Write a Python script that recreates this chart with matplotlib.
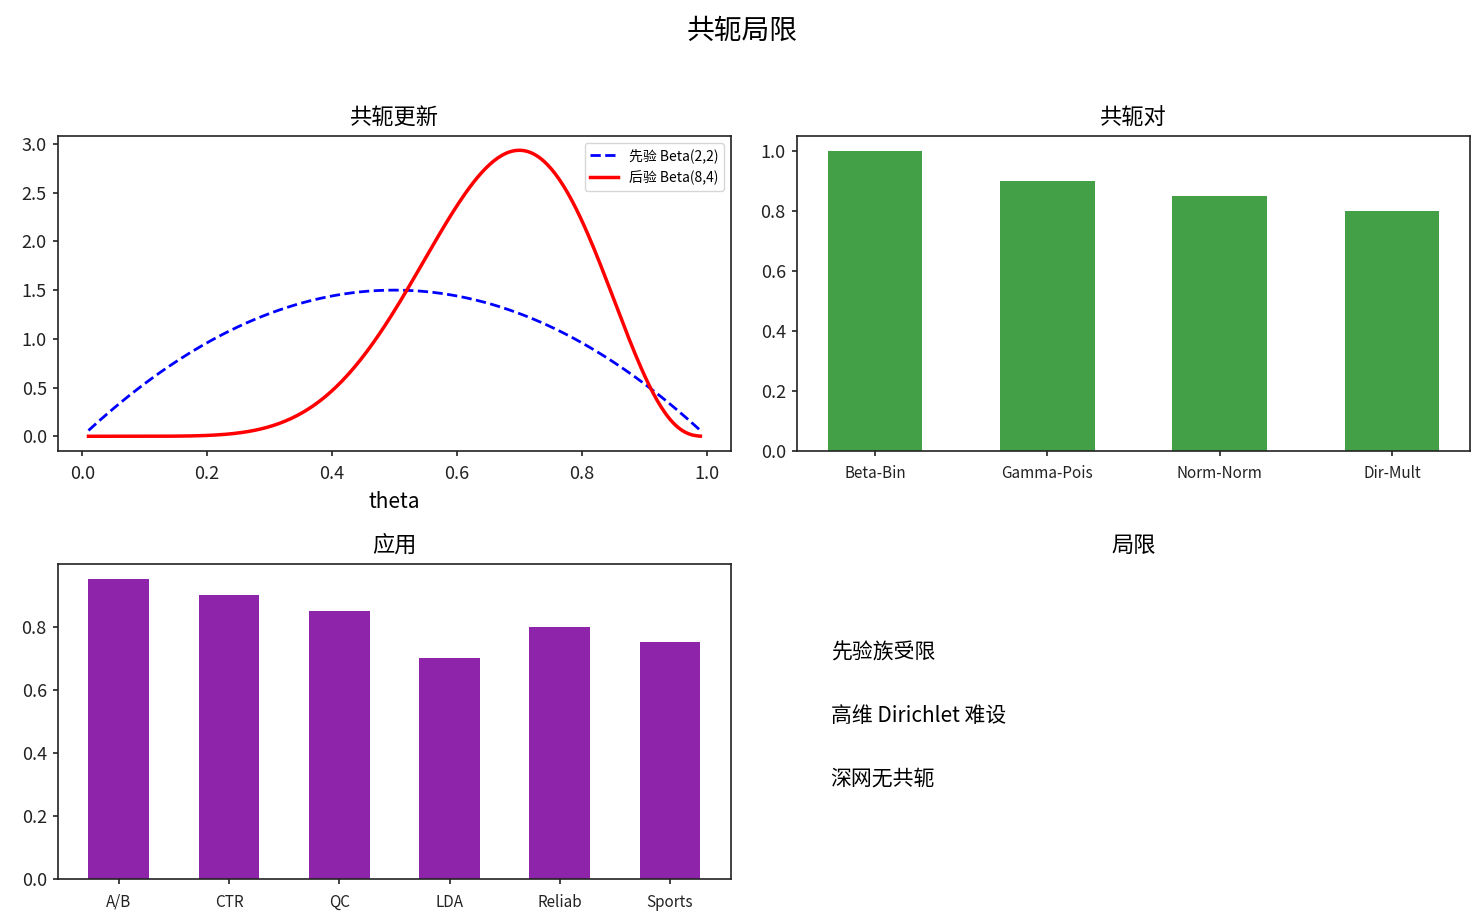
import numpy as np
import matplotlib
matplotlib.use("Agg")
import matplotlib.pyplot as plt
from math import gamma

plt.rcParams['font.family'] = ['Noto Sans CJK SC', 'DejaVu Sans']
plt.rcParams['axes.unicode_minus'] = False
plt.rcParams['axes.linewidth'] = 1.2
plt.rcParams['axes.edgecolor'] = '#222222'
plt.rcParams['xtick.major.pad'] = 7
plt.rcParams['ytick.major.pad'] = 4.5
plt.rcParams['xtick.major.width'] = 1.2
plt.rcParams['ytick.major.width'] = 1.2
plt.rcParams['xtick.color'] = '#222222'
plt.rcParams['ytick.color'] = '#222222'

# ---- data ----
suptitle = "共轭局限"
prior_params = (2, 2)
posterior_params = (8, 4)
theta_range = (0.01, 0.99)
prior_label = "先验 Beta(2,2)"
post_label = "后验 Beta(8,4)"

pair_names = ["Beta-Bin", "Gamma-Pois", "Norm-Norm", "Dir-Mult"]
pair_values = [1.0, 0.9, 0.85, 0.8]

app_names = ["A/B", "CTR", "QC", "LDA", "Reliab", "Sports"]
app_values = [0.95, 0.9, 0.85, 0.7, 0.8, 0.75]

limit_texts = ["先验族受限", "高维 Dirichlet 难设", "深网无共轭"]


def beta_pdf(x, a, b):
    return x ** (a - 1) * (1 - x) ** (b - 1) * gamma(a + b) / (gamma(a) * gamma(b))


theta = np.linspace(theta_range[0], theta_range[1], 300)

fig, axes = plt.subplots(2, 2, figsize=(14.84, 9.24), dpi=100)
fig.subplots_adjust(left=0.039, right=0.9906, top=0.8528, bottom=0.0487,
                    wspace=0.098, hspace=0.362)
fig.suptitle(suptitle, fontsize=20, y=0.983)

title_pad = 9

ax = axes[0, 0]
ax.plot(theta, beta_pdf(theta, *prior_params), 'b--', lw=2, label=prior_label)
ax.plot(theta, beta_pdf(theta, *posterior_params), 'r-', lw=2.5, label=post_label)
ax.set_title("共轭更新", fontsize=16, pad=title_pad)
ax.set_xlabel("theta", fontsize=15, labelpad=6)
ax.tick_params(labelsize=13)
ax.legend(loc='upper right', fontsize=10)

ax = axes[0, 1]
ax.bar(pair_names, pair_values, width=0.55, color='#43A047')
ax.set_title("共轭对", fontsize=16, pad=title_pad)
ax.tick_params(axis='y', labelsize=13)
ax.tick_params(axis='x', labelsize=11)

ax = axes[1, 0]
ax.bar(app_names, app_values, width=0.55, color='#8E24AA')
ax.set_title("应用", fontsize=16, pad=title_pad)
ax.tick_params(axis='y', labelsize=13)
ax.tick_params(axis='x', labelsize=11)

ax = axes[1, 1]
ax.axis('off')
ax.set_title("局限", fontsize=16, pad=title_pad)
for i, t in enumerate(limit_texts):
    ax.text(0.05, 0.7 - i * 0.2, t, fontsize=15, transform=ax.transAxes)

fig.savefig("out.png", dpi=100)
